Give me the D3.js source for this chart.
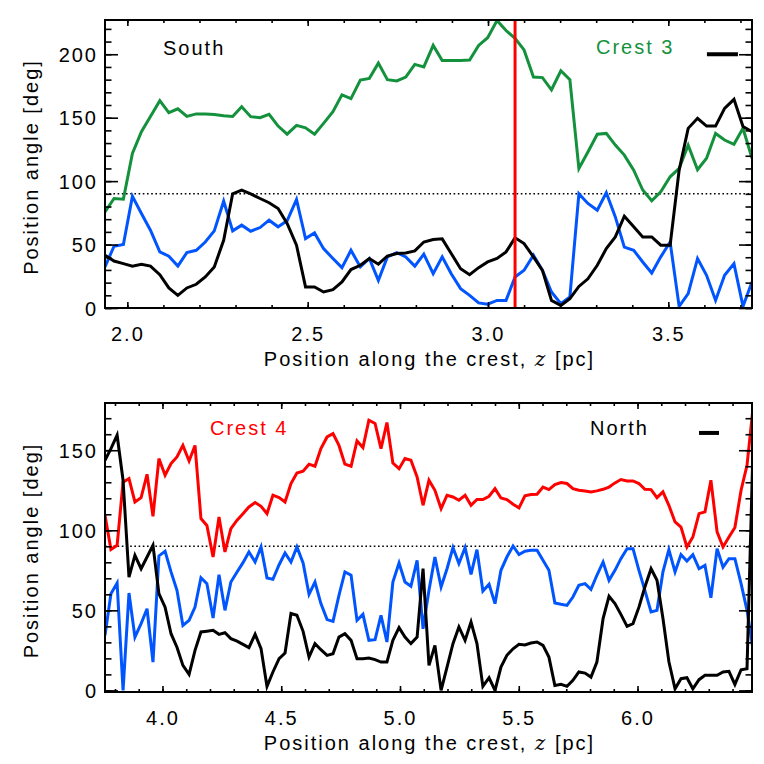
<!DOCTYPE html>
<html><head><meta charset="utf-8">
<script src="https://cdn.jsdelivr.net/npm/d3@7"></script>
<style>
html,body{margin:0;padding:0;background:#fff;}
svg text{font-family:"Liberation Sans",Arial,Helvetica,sans-serif;font-size:20px;letter-spacing:2px;fill:#000;}
</style></head><body>
<svg id="chart" width="764" height="764"></svg>
<script>
// ---------- Top panel (South / Crest 3) ----------
const topZ = [1.938,1.963,1.989,2.014,2.039,2.064,2.090,2.115,2.140,2.165,2.191,2.216,2.241,2.267,2.292,2.317,2.342,2.368,2.393,2.418,2.443,2.469,2.494,2.519,2.544,2.570,2.595,2.620,2.646,2.671,2.696,2.721,2.747,2.772,2.797,2.822,2.848,2.873,2.898,2.924,2.949,2.974,2.999,3.025,3.050,3.075,3.100,3.126,3.151,3.176,3.202,3.227,3.252,3.277,3.303,3.328,3.353,3.378,3.404,3.429,3.454,3.479,3.505,3.530,3.555,3.581,3.606,3.631,3.656,3.682,3.707,3.732];
const crest3Green = [75.8,86.3,85.8,121.8,139,151,163.4,154,157,151,153,153,152.6,151.6,151,158.7,150.8,150,152.6,143.4,137,144,142,137,145.5,154.7,168,165,179.7,181,193,180,179,182,192,190,207,195,195,195,195.5,207,213,226.6,218.7,212.6,203.4,182,181.6,172,187,180,110,123,137,137.6,128.4,120.5,108.7,93,84.5,91.6,103.4,110,128.4,109,118,137.6,132.4,129,141.6,118];
const southBlue = [32.4,48.7,50,88,74.5,61.3,44.2,40.8,33,43.7,45.5,52,60.8,84.2,60.8,65.3,60.5,63.4,69.2,64,68.7,85.5,54.7,59.2,46.8,39,31.8,45.5,32.4,39,21.8,40.3,43.7,40.3,33,42.4,27,40.3,27,15.3,10,4,3,6,6,24.5,29.7,41.6,29.7,12.6,3.4,8.7,90,82.4,77,90.8,71.8,48,45.5,36.3,27.6,40.3,52,1.3,11.3,39,25.8,6,25.8,35,1.3,20.5];
const southBlack = [41.6,37,35,33,34.5,33,26.3,15.8,10,15.8,18.7,24.5,32.4,53.4,90,92.9,90,86.3,83,78.4,66.6,49.5,16.6,16.6,12.6,14.5,20.5,30.3,33.7,39,34.5,41,43,43.4,45,52,54,54.5,43,31,26.3,31.8,36.3,39,44.2,55.3,50.8,40.3,29.7,6,2,7.4,17,23,33.7,46.8,56,72.4,64,56,56,49.5,49.5,108.7,141.6,149.5,143.4,143.4,157.4,164.5,143,139];
const topMarkerZ = [3.075];
const topXTicks = [2.0,2.5,3.0,3.5];
const topYTicks = [0,50,100,150,200];

// ---------- Bottom panel (North / Crest 4) ----------
const botZ = [3.758,3.783,3.809,3.834,3.859,3.884,3.910,3.935,3.960,3.985,4.011,4.036,4.061,4.086,4.112,4.137,4.162,4.187,4.213,4.238,4.263,4.288,4.314,4.339,4.364,4.390,4.415,4.440,4.465,4.491,4.516,4.541,4.566,4.592,4.617,4.642,4.667,4.693,4.718,4.743,4.768,4.794,4.819,4.844,4.869,4.895,4.920,4.945,4.970,4.996,5.021,5.046,5.072,5.097,5.122,5.147,5.173,5.198,5.223,5.248,5.274,5.299,5.324,5.349,5.375,5.400,5.425,5.450,5.476,5.501,5.526,5.551,5.577,5.602,5.627,5.652,5.678,5.703,5.728,5.753,5.779,5.804,5.829,5.855,5.880,5.905,5.930,5.956,5.981,6.006,6.031,6.057,6.082,6.107,6.132,6.158,6.183,6.208,6.233,6.259,6.284,6.309,6.335,6.360,6.385,6.410,6.436,6.461,6.486];
const crest4Red = [109.4,88,90.6,130,132.3,117.7,120.4,135,108.75,144.8,134.4,141.7,145.8,153,143.3,153,107.3,103,83.3,108.3,86.5,101,106.3,110.4,114.6,117.3,115,110.4,121.9,120.4,117.7,129.2,135.8,136.9,141.3,140,151,158.3,160.4,153,141.3,140,155.8,151.7,168.75,166.7,151,167.3,142,138.5,144.8,143.75,133.3,115.6,131.25,125,113.5,121.9,120.8,118.75,121.9,115.6,119.2,119.2,121.25,126,120.2,119.2,116.25,114,121.5,122.4,122.5,127,125.4,128.5,129.8,129.2,126,125,124.6,124,124.6,125.6,127,129.6,131.7,130.8,130.8,129.2,125.6,125.4,120.4,124,115.6,105.2,102,89.6,95.8,110.4,111.5,131.25,99,89.6,95.8,101.7,125,140.6,176];
const northBlue = [34.4,60.4,67,0,60.8,33.3,41.7,51,17.7,84,86.9,74,62.5,40.6,43.75,52,70.4,66.7,45.2,72.3,50,67.7,74,79.8,86.5,80.2,89.6,70.2,69.4,78.5,85.8,80.2,89.6,79.6,60,67.7,54.2,44.2,43.1,59.4,74,71.9,43.75,47.5,31.25,31.7,46.9,30.2,67.7,79.6,67.7,65,81.25,38.5,62.5,83.3,64.6,76,89.2,79.2,89.2,72.5,87.9,62,66.25,54.2,75,83.3,90.2,84.8,86.9,87.5,87.5,81.25,75,54.6,53.75,53.1,58.3,65.6,66.7,63.1,71.9,80.2,68.75,75,82.3,88.5,88.5,75,62.5,49,50,74,87.9,74,84.8,80.8,84.8,76,78.1,57.9,88.5,77,82.3,82.3,66.7,50,26];
const northBlack = [143.75,151,159.4,131.25,70.8,84.4,76,83.3,90.6,60.4,52,35.4,27,15.6,10,25,36.5,37,37.5,35,36,32.3,30.8,28.75,26.7,35,26,2.5,11.5,19.8,23.3,48,46.9,36.9,20.8,29.2,25.4,21.9,22.9,33.3,35.4,31.25,19.8,19.8,20.2,19.2,17.7,17.7,31.25,39.2,33.3,29.2,33.3,76,15.6,28.1,0,14.6,29.2,39.6,31.25,42.7,29.2,2.5,7.9,0,14.6,21.9,26,28.75,28.4,29.6,30.2,28.1,20.8,3.1,3.75,2.5,6.25,11.5,10.8,8.3,17.7,44.8,58.75,54.2,47.5,40,41.7,52,64.6,76,68.75,45,18,1,7.3,7.9,1,6.7,9.4,9.4,9.4,11.5,11.9,3.75,12.9,13.5,150];
const botXTicks = [4.0,4.5,5.0,5.5,6.0];
const botYTicks = [0,50,100,150];

const GREEN = "rgb(20,145,60)", BLUE = "rgb(0,85,255)", RED = "rgb(255,0,0)", BLACK = "#000";
const svg = d3.select("#chart");

function drawPanel(cfg) {
  const L = 105, R = 752, T = cfg.top, B = cfg.bottom;
  const x = d3.scaleLinear().domain(cfg.xDomain).range([L, R]);
  const y = d3.scaleLinear().domain(cfg.yDomain).range([B, T]);
  const g = svg.append("g");
  const clipId = "clip" + cfg.id;
  svg.append("defs").append("clipPath").attr("id", clipId)
    .append("rect").attr("x", L).attr("y", T).attr("width", R - L).attr("height", B - T);

  // reference line at 90 deg
  g.append("line").attr("x1", L).attr("x2", R).attr("y1", y(90)).attr("y2", y(90))
    .attr("stroke", "#000").attr("stroke-width", 1.6).attr("stroke-dasharray", "1.6,2.6");

  const plot = g.append("g").attr("clip-path", `url(#${clipId})`);
  const line = d3.line().x(d => x(d[0])).y(d => y(d[1]));
  cfg.series.forEach(s => {
    plot.append("path").datum(s.z.map((z, i) => [z, s.v[i]]))
      .attr("d", line).attr("fill", "none").attr("stroke", s.color)
      .attr("stroke-width", 3).attr("stroke-linejoin", "miter");
  });
  (cfg.vlines || []).forEach(v => {
    plot.append("line").attr("x1", x(v)).attr("x2", x(v)).attr("y1", T).attr("y2", B)
      .attr("stroke", RED).attr("stroke-width", 3);
  });

  // axes (ticks inward)
  const xMinor = d3.range(Math.ceil(cfg.xDomain[0] * 10), Math.floor(cfg.xDomain[1] * 10) + 1).map(d => d / 10);
  const yMinor = d3.range(0, cfg.yDomain[1], 10);
  const clean = sel => { sel.select(".domain").remove(); sel.selectAll("line").attr("stroke-width", 1.6); };
  g.append("g").attr("transform", `translate(0,${B})`).call(d3.axisBottom(x).tickValues(xMinor).tickSize(-3).tickFormat("")).call(clean);
  g.append("g").attr("transform", `translate(0,${T})`).call(d3.axisTop(x).tickValues(xMinor).tickSize(-3).tickFormat("")).call(clean);
  g.append("g").attr("transform", `translate(0,${B})`).call(d3.axisBottom(x).tickValues(cfg.xTicks).tickSize(-6).tickPadding(18.6).tickFormat(d3.format(".1f"))).call(clean);
  g.append("g").attr("transform", `translate(0,${T})`).call(d3.axisTop(x).tickValues(cfg.xTicks).tickSize(-6).tickFormat("")).call(clean);
  g.append("g").attr("transform", `translate(${L},0)`).call(d3.axisLeft(y).tickValues(yMinor).tickSize(-6.5).tickFormat("")).call(clean);
  g.append("g").attr("transform", `translate(${R},0)`).call(d3.axisRight(y).tickValues(yMinor).tickSize(-6.5).tickFormat("")).call(clean);
  g.append("g").attr("transform", `translate(${L},0)`).call(d3.axisLeft(y).tickValues(cfg.yTicks).tickSize(-13).tickPadding(7).tickFormat(d3.format("d"))).call(clean)
    .selectAll("text").attr("dy", "0.36em");
  g.append("g").attr("transform", `translate(${R},0)`).call(d3.axisRight(y).tickValues(cfg.yTicks).tickSize(-13).tickFormat("")).call(clean);

  g.append("rect").attr("x", L).attr("y", T).attr("width", R - L).attr("height", B - T)
    .attr("fill", "none").attr("stroke", "#000").attr("stroke-width", 2);

  // axis titles
  g.append("text").attr("transform", `translate(38,${(T + B) / 2 + 3}) rotate(-90)`)
    .attr("text-anchor", "middle").text("Position angle [deg]");
  const xt = g.append("text").attr("x", (L + R) / 2 + 1).attr("y", B + 58).attr("text-anchor", "middle");
  xt.append("tspan").text("Position along the crest, ");
  xt.append("tspan").attr("font-style", "italic").style("font-family", "'DejaVu Serif',serif").style("font-style", "italic").text("z");
  xt.append("tspan").text(" [pc]");

  // labels
  cfg.labels.forEach(l => {
    g.append("text").attr("x", l.x).attr("y", l.y).style("fill", l.color).text(l.text);
  });
  // scale bar
  g.append("line").attr("x1", x(cfg.bar[0])).attr("x2", x(cfg.bar[1])).attr("y1", y(cfg.bar[2])).attr("y2", y(cfg.bar[2]))
    .attr("stroke", "#000").attr("stroke-width", 4);
}

drawPanel({
  id: "top", top: 20, bottom: 308, xDomain: [1.938, 3.732], yDomain: [0, 227],
  xTicks: topXTicks, yTicks: topYTicks,
  series: [
    {z: topZ, v: crest3Green, color: GREEN},
    {z: topZ, v: southBlue, color: BLUE},
    {z: topZ, v: southBlack, color: BLACK}
  ],
  vlines: topMarkerZ,
  labels: [{text: "South", x: 163, y: 55, color: "#000"}, {text: "Crest 3", x: 596, y: 54, color: GREEN}],
  bar: [3.607, 3.693, 200]
});

drawPanel({
  id: "bot", top: 403, bottom: 692, xDomain: [3.758, 6.482], yDomain: [-1, 179.5],
  xTicks: botXTicks, yTicks: botYTicks,
  series: [
    {z: botZ, v: crest4Red, color: RED},
    {z: botZ, v: northBlue, color: BLUE},
    {z: botZ, v: northBlack, color: BLACK}
  ],
  labels: [{text: "Crest 4", x: 210, y: 435, color: RED}, {text: "North", x: 590, y: 435, color: "#000"}],
  bar: [6.259, 6.343, 160.8]
});
</script>
</body></html>
